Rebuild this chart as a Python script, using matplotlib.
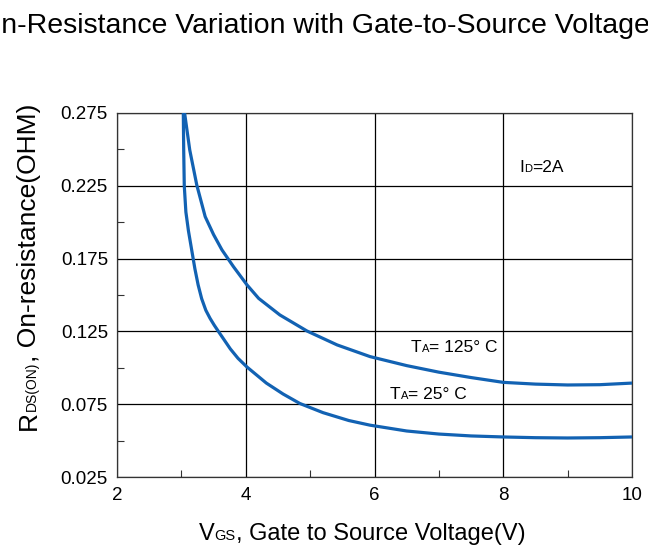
import matplotlib
matplotlib.use("Agg")
import matplotlib.pyplot as plt
from matplotlib.ticker import MultipleLocator, FixedLocator

plt.rcParams['font.family'] = ['Liberation Sans', 'DejaVu Sans']

# ---- data ----
vgs_125 = [3.05, 3.13, 3.24, 3.37, 3.5, 3.63, 3.81, 4.02, 4.2, 4.53, 4.95, 5.42, 5.93,
           6.5, 7.0, 7.5, 8.0, 8.5, 9.0, 9.5, 10.0]
rds_125 = [0.275, 0.2496, 0.2254, 0.2038, 0.1915, 0.181, 0.1694, 0.1569, 0.1477, 0.1363,
           0.1253, 0.1157, 0.1077, 0.1015, 0.097, 0.0933, 0.090, 0.0888, 0.0882, 0.0884,
           0.0895]
vgs_25 = [3.03, 3.036, 3.045, 3.07, 3.11, 3.16, 3.21, 3.26, 3.315, 3.38, 3.445, 3.51,
          3.575, 3.66, 3.76, 3.88, 4.02, 4.17, 4.32, 4.58, 4.84, 5.2, 5.6, 5.93, 6.5,
          7.0, 7.5, 8.0, 8.5, 9.0, 9.5, 10.0]
rds_25 = [0.275, 0.25, 0.225, 0.207, 0.194, 0.181, 0.168, 0.157, 0.1475, 0.1395, 0.134,
          0.1293, 0.125, 0.1195, 0.113, 0.1065, 0.1005, 0.095, 0.0895, 0.082, 0.0755,
          0.0692, 0.0638, 0.0606, 0.0566, 0.0545, 0.0532, 0.0525, 0.052, 0.0518, 0.052,
          0.0525]
xticks = [2, 4, 6, 8, 10]
yticks = [0.025, 0.075, 0.125, 0.175, 0.225, 0.275]
ytick_labels = ["0.025", "0.075", "0.125", "0.175", "0.225", "0.275"]

W, H = 648, 553
fig = plt.figure(figsize=(W / 100, H / 100), dpi=100)
ax = fig.add_axes([117 / W, 1 - 477 / H, (632 - 117) / W, (477 - 113) / H])

blue = '#1262b3'
for xs, ys in ((vgs_125, rds_125), (vgs_25, rds_25)):
    ax.plot(xs, ys, color=blue, lw=2.3, solid_joinstyle='round',
            solid_capstyle='butt', zorder=3)

ax.set_xlim(2, 10)
ax.set_ylim(0.025, 0.275)
ax.xaxis.set_major_locator(FixedLocator(xticks))
ax.yaxis.set_major_locator(FixedLocator(yticks))
ax.set_yticklabels(ytick_labels)
ax.xaxis.set_minor_locator(MultipleLocator(1))
ax.yaxis.set_minor_locator(FixedLocator([0.05, 0.1, 0.15, 0.2, 0.25]))
ax.grid(True, which='major', color='black', lw=0.9)
ax.tick_params(which='major', length=0, labelsize=13.5, colors='black')
ax.tick_params(axis='y', which='major', pad=6.5)
ax.tick_params(axis='x', which='major', pad=7)
ax.tick_params(which='minor', direction='in', length=5, width=0.8, color='#333333')
for s in ax.spines.values():
    s.set_color('#333333')
    s.set_linewidth(0.9)

renderer = fig.canvas.get_renderer()


def rich(x_px, y_px, parts, rotation=0, ha='left'):
    """x_px, y_px in image pixels from top-left; baseline anchor."""
    widths = []
    for s, size in parts:
        t = fig.text(0, 0, s, fontsize=size)
        widths.append(t.get_window_extent(renderer).width)
        t.remove()
    total = sum(widths)
    pos = {'left': 0, 'center': -total / 2, 'right': -total}[ha]
    yb = H - y_px
    for (s, size), w in zip(parts, widths):
        if rotation == 0:
            fig.text((x_px + pos) / W, yb / H, s, fontsize=size, ha='left', va='baseline')
        else:
            fig.text(x_px / W, (yb + pos) / H, s, fontsize=size, rotation=90,
                     rotation_mode='anchor', ha='left', va='baseline')
        pos += w


# title (partly cut off like the reference)
title = "On-Resistance Variation with Gate-to-Source Voltage"
t0 = fig.text(0, 0, "O", fontsize=20.5)
wo = t0.get_window_extent(renderer).width
t0.remove()
fig.text((1 - wo) / W, 1 - 33 / H, title, fontsize=20.5, ha='left', va='baseline')

# axis labels
rich(362, 540, [("V", 17), ("GS", 10.5), (", Gate to Source Voltage(V)", 17)], ha='center')
rich(36, 430, [("R", 19), ("DS(ON)", 10), (", On-resistance(OHM)", 19)], rotation=90)

# annotations
rich(519, 172, [("I", 12.5), ("D", 8), ("=2A", 12.5)])
rich(411, 352, [("T", 12.5), ("A", 8), ("= 125° C", 12.5)])
rich(390, 399, [("T", 12.5), ("A", 8), ("= 25° C", 12.5)])

fig.savefig("out.png", dpi=100)
